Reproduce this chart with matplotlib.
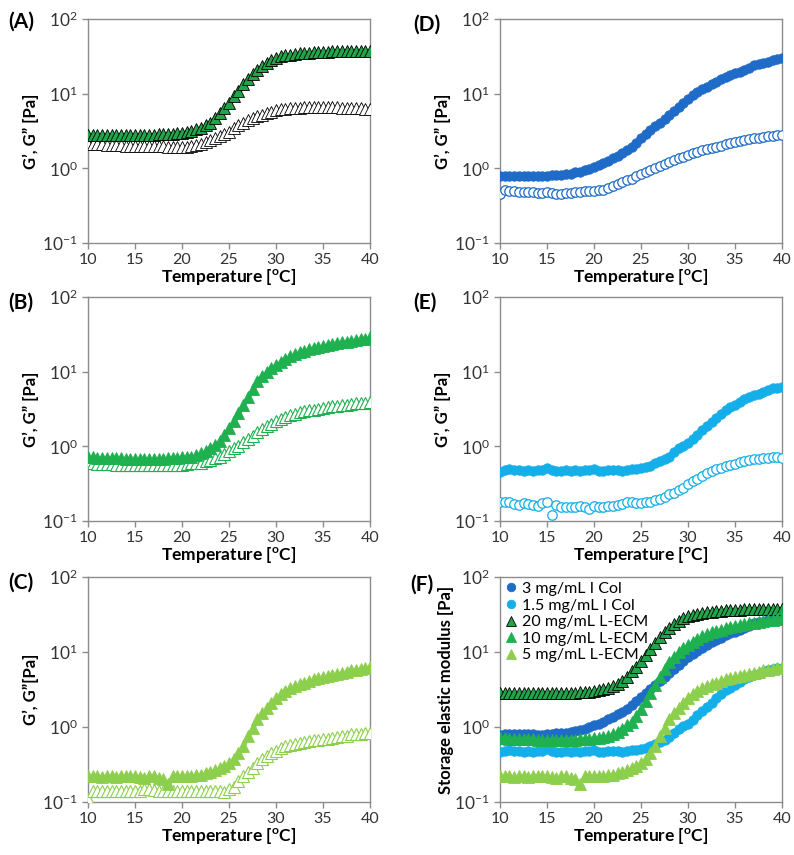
import numpy as np
import matplotlib
matplotlib.use('Agg')
import matplotlib.pyplot as plt
from matplotlib.ticker import FixedLocator, FuncFormatter
from matplotlib.transforms import ScaledTranslation

plt.rcParams['font.family'] = ['Lato', 'DejaVu Sans']
plt.rcParams['mathtext.fontset'] = 'custom'
plt.rcParams['mathtext.rm'] = 'Lato'
plt.rcParams['mathtext.bf'] = 'Lato:bold'

# temperatura (rampa 10 -> 40 C, cada 0.5 C)
temp = np.linspace(10, 40, 61)

# (A) 20 mg/mL L-ECM
a_gp = [2.8, 2.8, 2.8, 2.8, 2.8, 2.8, 2.8, 2.8, 2.8, 2.8,
        2.8, 2.8, 2.8, 2.8, 2.8, 2.85, 2.85, 2.9, 2.9, 2.95,
        3.0, 3.1, 3.2, 3.35, 3.5, 3.8, 4.1, 4.7, 5.5, 6.4,
        7.6, 9.2, 11.0, 13.3, 15.8, 18.5, 21.0, 23.5, 26.0, 28.0,
        30.0, 31.5, 32.5, 33.3, 34.0, 34.6, 35.1, 35.5, 35.9, 36.2,
        36.5, 36.7, 36.9, 37.0, 37.1, 37.2, 37.3, 37.3, 37.4, 37.4,
        37.4]
a_gpp = [2.1, 2.1, 2.1, 2.1, 2.05, 2.05, 2.05, 2.05, 2.0, 2.0,
         2.0, 2.0, 2.0, 2.0, 1.98, 1.98, 1.97, 1.96, 1.95, 1.95,
         1.95, 1.96, 1.98, 2.05, 2.15, 2.25, 2.4, 2.55, 2.7, 2.9,
         3.1, 3.45, 3.8, 4.1, 4.4, 4.7, 5.0, 5.25, 5.5, 5.75,
         6.0, 6.15, 6.3, 6.4, 6.45, 6.5, 6.55, 6.6, 6.6, 6.6,
         6.6, 6.6, 6.6, 6.55, 6.5, 6.5, 6.45, 6.4, 6.35, 6.3,
         6.3]

# (B) 10 mg/mL L-ECM
b_gp = [0.72, 0.71, 0.7, 0.7, 0.7, 0.69, 0.69, 0.69, 0.68, 0.68,
        0.68, 0.68, 0.68, 0.68, 0.68, 0.68, 0.68, 0.69, 0.69, 0.7,
        0.71, 0.72, 0.73, 0.77, 0.81, 0.87, 0.95, 1.05, 1.17, 1.4,
        1.76, 2.2, 2.8, 3.6, 4.6, 5.9, 7.4, 8.7, 10.0, 11.2,
        12.3, 13.6, 14.8, 16.1, 17.3, 18.3, 19.2, 19.9, 20.6, 21.3,
        22.0, 22.8, 23.5, 24.1, 24.7, 25.2, 25.8, 26.4, 27.0, 27.8,
        28.7]
b_gpp = [0.59, 0.59, 0.58, 0.58, 0.58, 0.58, 0.57, 0.57, 0.57, 0.57,
         0.57, 0.57, 0.57, 0.57, 0.57, 0.57, 0.57, 0.57, 0.57, 0.57,
         0.57, 0.58, 0.59, 0.6, 0.6, 0.63, 0.66, 0.69, 0.73, 0.79,
         0.86, 0.94, 1.02, 1.13, 1.25, 1.39, 1.54, 1.7, 1.85, 2.0,
         2.16, 2.32, 2.47, 2.61, 2.74, 2.84, 2.94, 3.02, 3.1, 3.18,
         3.26, 3.35, 3.43, 3.48, 3.54, 3.61, 3.69, 3.75, 3.8, 3.84,
         3.88]

# (C) 5 mg/mL L-ECM
c_gp = [0.22, 0.22, 0.22, 0.215, 0.22, 0.22, 0.215, 0.22, 0.22, 0.22,
        0.22, 0.215, 0.21, 0.22, 0.22, 0.21, 0.2, 0.175, 0.22, 0.22,
        0.22, 0.225, 0.225, 0.23, 0.23, 0.24, 0.25, 0.265, 0.28, 0.3,
        0.33, 0.38, 0.45, 0.56, 0.76, 0.98, 1.27, 1.56, 1.8, 2.1,
        2.47, 2.75, 3.0, 3.3, 3.55, 3.75, 3.9, 4.1, 4.35, 4.55,
        4.7, 4.85, 5.0, 5.1, 5.2, 5.45, 5.7, 5.8, 5.9, 6.1,
        6.3]
c_gpp = [0.11, 0.14, 0.14, 0.14, 0.14, 0.14, 0.14, 0.14, 0.14, 0.14,
         0.14, 0.14, 0.15, 0.15, 0.145, 0.14, 0.14, 0.14, 0.14, 0.14,
         0.14, 0.14, 0.14, 0.14, 0.14, 0.14, 0.14, 0.14, 0.14, 0.135,
         0.15, 0.16, 0.19, 0.22, 0.25, 0.28, 0.33, 0.37, 0.41, 0.45,
         0.48, 0.52, 0.55, 0.57, 0.59, 0.61, 0.63, 0.65, 0.67, 0.68,
         0.7, 0.7, 0.71, 0.73, 0.75, 0.77, 0.8, 0.8, 0.8, 0.82,
         0.83]

# (D) 3 mg/mL I Col
d_gp = [0.78, 0.8, 0.8, 0.8, 0.8, 0.8, 0.8, 0.8, 0.79, 0.79,
        0.8, 0.81, 0.82, 0.82, 0.84, 0.85, 0.88, 0.9, 0.95, 0.99,
        1.05, 1.1, 1.17, 1.26, 1.36, 1.47, 1.59, 1.76, 1.95, 2.2,
        2.52, 2.85, 3.26, 3.65, 4.1, 4.6, 5.2, 5.9, 6.7, 7.6,
        8.6, 9.5, 10.4, 11.4, 12.4, 13.4, 14.5, 15.6, 16.9, 17.8,
        18.7, 19.7, 20.7, 22.4, 24.2, 24.8, 25.4, 26.7, 28.0, 29.0,
        30.5]
d_gpp = [0.46, 0.51, 0.49, 0.49, 0.48, 0.48, 0.48, 0.48, 0.47, 0.47,
         0.48, 0.47, 0.46, 0.46, 0.47, 0.47, 0.48, 0.48, 0.49, 0.49,
         0.5, 0.51, 0.52, 0.55, 0.58, 0.61, 0.65, 0.69, 0.73, 0.78,
         0.83, 0.89, 0.95, 1.02, 1.09, 1.16, 1.23, 1.3, 1.36, 1.43,
         1.51, 1.59, 1.67, 1.74, 1.81, 1.88, 1.95, 2.02, 2.1, 2.16,
         2.23, 2.3, 2.4, 2.46, 2.52, 2.58, 2.65, 2.69, 2.73, 2.77,
         2.8]

# (E) 1.5 mg/mL I Col
e_gp = [0.46, 0.48, 0.49, 0.48, 0.48, 0.47, 0.48, 0.47, 0.48, 0.48,
        0.51, 0.48, 0.47, 0.47, 0.48, 0.47, 0.48, 0.47, 0.48, 0.48,
        0.49, 0.47, 0.47, 0.48, 0.48, 0.48, 0.47, 0.48, 0.49, 0.5,
        0.51, 0.53, 0.55, 0.59, 0.63, 0.68, 0.73, 0.83, 0.95, 1.02,
        1.1, 1.25, 1.43, 1.63, 1.85, 2.1, 2.4, 2.75, 3.1, 3.35,
        3.6, 3.95, 4.3, 4.6, 4.9, 5.1, 5.4, 5.7, 6.0, 6.1,
        6.2]
e_gpp = [0.178, 0.178, 0.178, 0.17, 0.166, 0.175, 0.168, 0.165, 0.16, 0.175,
         0.178, 0.12, 0.166, 0.155, 0.155, 0.155, 0.155, 0.158, 0.155, 0.145,
         0.16, 0.155, 0.155, 0.158, 0.16, 0.165, 0.168, 0.18, 0.178, 0.175,
         0.175, 0.18, 0.18, 0.19, 0.2, 0.21, 0.23, 0.24, 0.26, 0.28,
         0.31, 0.34, 0.37, 0.4, 0.44, 0.47, 0.5, 0.52, 0.54, 0.56,
         0.58, 0.61, 0.64, 0.66, 0.67, 0.68, 0.69, 0.7, 0.72, 0.72,
         0.69]

legend_labels = ['3 mg/mL I Col', '1.5 mg/mL I Col', '20 mg/mL L-ECM',
                 '10 mg/mL L-ECM', '5 mg/mL L-ECM']

verde_osc = '#23a34a'
verde = '#1fb050'
verde_claro = '#8ccf4c'
azul = '#1f6cc8'
azul_claro = '#14aee8'
gris = '#8c8c8c'

fig = plt.figure(figsize=(7.94, 8.55), dpi=100)

W = 794.0
H = 855.0
cols = [88, 500]
rows = [(19, 243), (297, 521), (577, 802)]


def nuevo_eje(c, r):
    x0 = cols[c] / W
    top, bot = rows[r]
    ax = fig.add_axes([x0, 1 - bot / H, 282 / W, (bot - top) / H])
    ax.set_yscale('log')
    ax.set_ylim(0.1, 100)
    ax.set_xlim(10, 40)
    ax.set_xticks([10, 15, 20, 25, 30, 35, 40])
    ax.yaxis.set_major_locator(FixedLocator([0.1, 1, 10, 100]))
    ax.yaxis.set_minor_locator(FixedLocator([]))
    ax.yaxis.set_major_formatter(FuncFormatter(
        lambda v, p: r'$\mathregular{10^{%d}}$' % round(np.log10(v))))
    for s in ax.spines.values():
        s.set_color(gris)
        s.set_linewidth(1.0)
    ax.tick_params(axis='both', colors=gris, labelcolor='#333333',
                   labelsize=11.5, length=4, width=1, direction='out')
    ax.tick_params(axis='y', labelsize=12.5)
    ax.set_xlabel(r'Temperature [$\mathbf{^{o}}$C]', fontsize=12.5,
                  fontweight='bold', labelpad=0)
    return ax


def linea(ax, y, color):
    # la linea de tendencia queda un poco por debajo de los marcadores
    tr = ax.transData + ScaledTranslation(0, -3 / 72, fig.dpi_scale_trans)
    ax.plot(temp, y, color=color, lw=1.3, transform=tr, zorder=2)


tri = dict(marker='^', ms=8, linestyle='none', zorder=3)
circ = dict(marker='o', ms=6.8, linestyle='none', zorder=3)

# (A)
ax = nuevo_eje(0, 0)
linea(ax, a_gpp, 'black')
ax.plot(temp, a_gpp, mfc='white', mec='black', mew=0.6, **tri)
linea(ax, a_gp, 'black')
ax.plot(temp, a_gp, mfc=verde_osc, mec='black', mew=0.6, **tri)
ax.set_ylabel('G’, G” [Pa]', fontsize=12, fontweight='bold', labelpad=2)

# (B)
ax = nuevo_eje(0, 1)
linea(ax, b_gpp, verde)
ax.plot(temp, b_gpp, mfc='white', mec=verde, mew=0.8, **tri)
linea(ax, b_gp, verde)
ax.plot(temp, b_gp, mfc=verde, mec=verde, mew=0.6, **tri)
ax.set_ylabel('G’, G” [Pa]', fontsize=12, fontweight='bold', labelpad=2)

# (C)
ax = nuevo_eje(0, 2)
linea(ax, c_gpp, verde_claro)
ax.plot(temp, c_gpp, mfc='white', mec=verde_claro, mew=0.8, **tri)
linea(ax, c_gp, verde_claro)
ax.plot(temp, c_gp, mfc=verde_claro, mec=verde_claro, mew=0.6, **tri)
ax.set_ylabel('G’, G”[Pa]', fontsize=12, fontweight='bold', labelpad=2)

# (D)
ax = nuevo_eje(1, 0)
ax.plot(temp, d_gpp, mfc='white', mec=azul, mew=0.9, **circ)
ax.plot(temp, d_gp, mfc=azul, mec=azul, mew=0.6, **circ)
ax.set_ylabel('G’, G” [Pa]', fontsize=12, fontweight='bold', labelpad=2)

# (E)
ax = nuevo_eje(1, 1)
ax.plot(temp, e_gpp, mfc='white', mec=azul_claro, mew=0.9, **circ)
ax.plot(temp, e_gp, mfc=azul_claro, mec=azul_claro, mew=0.6, **circ)
ax.set_ylabel('G’, G” [Pa]', fontsize=12, fontweight='bold', labelpad=2)

# (F) comparacion de G'
ax = nuevo_eje(1, 2)
ax.plot(temp, d_gp, mfc=azul, mec=azul, mew=0.6, label=legend_labels[0], **circ)
ax.plot(temp, e_gp, mfc=azul_claro, mec=azul_claro, mew=0.6, label=legend_labels[1], **circ)
linea(ax, a_gp, 'black')
ax.plot(temp, a_gp, mfc=verde_osc, mec='black', mew=0.6, label=legend_labels[2], **tri)
ax.plot(temp, b_gp, mfc=verde, mec=verde, mew=0.6, label=legend_labels[3], **tri)
ax.plot(temp, c_gp, mfc=verde_claro, mec=verde_claro, mew=0.6, label=legend_labels[4], **tri)
ax.set_ylabel('Storage elastic modulus [Pa]', fontsize=12, fontweight='bold', labelpad=0)
ax.legend(loc='upper left', frameon=False, fontsize=11.5, handlelength=0.8,
          handletextpad=0.3, labelspacing=0.15, borderaxespad=0.2,
          borderpad=0.1, markerscale=0.9)

# etiquetas de los paneles
paneles = [('(A)', 8, 22), ('(B)', 8, 303), ('(C)', 8, 583),
           ('(D)', 413, 25), ('(E)', 413, 303), ('(F)', 410, 585)]
for txt, px, py in paneles:
    fig.text(px / W, 1 - py / H, txt, fontsize=15, fontweight='bold',
             va='center', ha='left')

fig.savefig('out.png', dpi=100)
